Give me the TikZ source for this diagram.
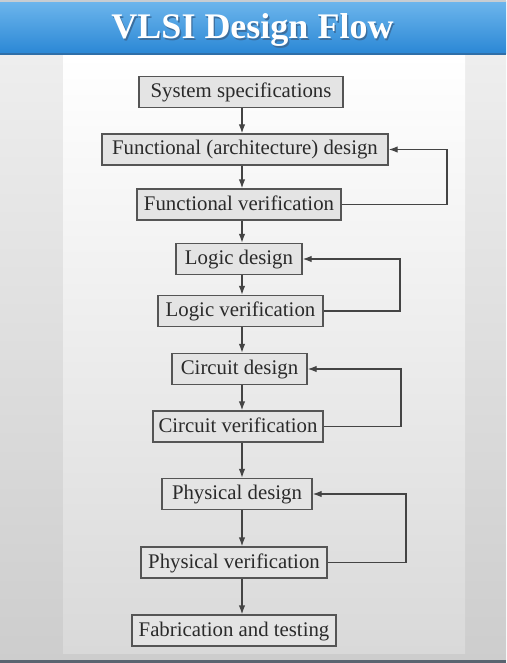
\documentclass[tikz,border=0pt]{standalone}
\usepackage{fontspec}
\setmainfont{Liberation Serif}
\usetikzlibrary{arrows.meta}
\definecolor{boxfill}{HTML}{E4E4E4}
\definecolor{boxline}{HTML}{555555}
\definecolor{boxtext}{HTML}{2A2A2A}
\definecolor{bantop}{HTML}{6CB5EC}
\definecolor{banbot}{HTML}{2A87D5}
\definecolor{outtop}{HTML}{F1F1F1}
\definecolor{outbot}{HTML}{CDCDCD}
\definecolor{pantop}{HTML}{FFFFFF}
\definecolor{panbot}{HTML}{D9D9D9}
\definecolor{barbot}{HTML}{5A6470}
\definecolor{bartop}{HTML}{C8CDD2}
\definecolor{banline}{HTML}{2F6FA8}
\definecolor{tshadow}{HTML}{3B6E9E}
\tikzset{
  stepbox/.style={draw=boxline, line width=1.3pt, fill=boxfill, text=boxtext,
    font=\fontsize{20.8}{24}\selectfont, minimum height=31pt, inner xsep=2pt, inner ysep=0pt,
    text height=14pt, text depth=3pt},
  flow/.style={draw=boxline!80!black, line width=1.3pt, -{Latex[length=9pt,width=6.5pt]}},
  title/.style={font=\fontsize{36}{40}\selectfont\bfseries, anchor=base}
}
\begin{document}
\begin{tikzpicture}[x=1pt,y=-1pt]
\useasboundingbox (0,0) rectangle (506,663);
% backgrounds
\shade[top color=outtop, bottom color=outbot] (0,0) rectangle (506,663);
\shade[top color=pantop, bottom color=panbot] (63,55) rectangle (465,653);
\fill[barbot] (0,660) rectangle (506,663);
\shade[top color=bantop, bottom color=banbot] (0,2) rectangle (506,54);
\fill[bartop] (0,0) rectangle (506,2);
\fill[banline] (0,53) rectangle (506,55);
% title
\node[title, text=tshadow] (tsh) at (253.8,40.3) {VLSI Design Flow};
\node[title, text=white] (tt) at (252.5,39) {VLSI Design Flow};
% spine and loop coordinates
\coordinate (sp) at (242,0);
\coordinate (l1) at (447,0);
\coordinate (l2) at (400,0);
\coordinate (l3) at (401,0);
\coordinate (l4) at (406,0);
% boxes
\node[stepbox, minimum width=204pt] (ss)  at (241,92)    {System specifications};
\node[stepbox, minimum width=286pt] (fad) at (245,149.5) {Functional (architecture) design};
\node[stepbox, minimum width=204pt] (fv)  at (239,204.5) {Functional verification};
\node[stepbox, minimum width=126pt] (ld)  at (239,259)   {Logic design};
\node[stepbox, minimum width=165pt] (lv)  at (240.5,311) {Logic verification};
\node[stepbox, minimum width=135pt] (cd)  at (239.5,369) {Circuit design};
\node[stepbox, minimum width=170pt] (cv)  at (238,426.5) {Circuit verification};
\node[stepbox, minimum width=150pt] (pd)  at (237,494)   {Physical design};
\node[stepbox, minimum width=186pt] (pv)  at (234,562.5) {Physical verification};
\node[stepbox, minimum width=204pt] (ft)  at (234,630.5) {Fabrication and testing};
% main flow
\draw[flow] (ss.south -| sp) -- (fad.north -| sp);
\draw[flow] (fad.south -| sp) -- (fv.north -| sp);
\draw[flow] (fv.south -| sp) -- (ld.north -| sp);
\draw[flow] (ld.south -| sp) -- (lv.north -| sp);
\draw[flow] (lv.south -| sp) -- (cd.north -| sp);
\draw[flow] (cd.south -| sp) -- (cv.north -| sp);
\draw[flow] (cv.south -| sp) -- (pd.north -| sp);
\draw[flow] (pd.south -| sp) -- (pv.north -| sp);
\draw[flow] (pv.south -| sp) -- (ft.north -| sp);
% feedback loops
\draw[flow] (fv.east) -- (fv.east -| l1) |- (fad.east);
\draw[flow] (lv.east) -- (lv.east -| l2) |- (ld.east);
\draw[flow] (cv.east) -- (cv.east -| l3) |- (cd.east);
\draw[flow] (pv.east) -- (pv.east -| l4) |- (pd.east);
\end{tikzpicture}
\end{document}
